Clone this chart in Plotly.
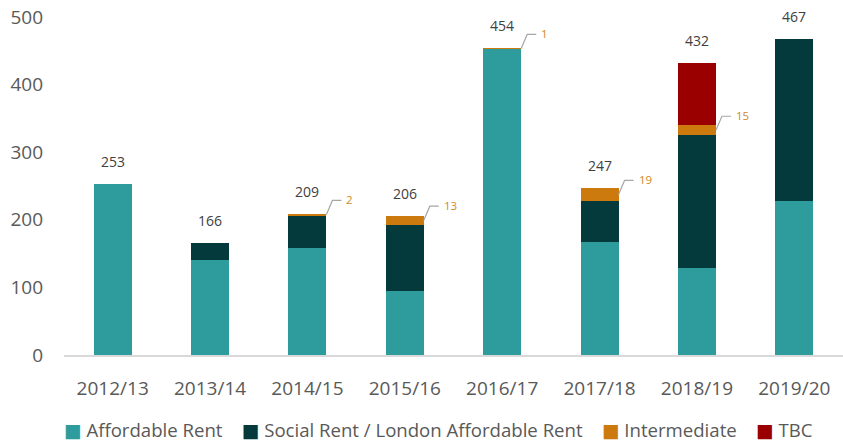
import plotly.graph_objects as go

years = ["2012/13", "2013/14", "2014/15", "2015/16", "2016/17", "2017/18", "2018/19", "2019/20"]
affordable = [253, 140, 159, 95, 453, 167, 128, 228]
social = [0, 26, 48, 98, 0, 61, 197, 239]
intermediate = [0, 0, 2, 13, 1, 19, 15, 0]
tbc = [0, 0, 0, 0, 0, 0, 92, 0]
totals = [253, 166, 209, 206, 454, 247, 432, 467]
y_ticks = [0, 100, 200, 300, 400, 500]

series_names = ["Affordable Rent", "Social Rent / London Affordable Rent", "Intermediate", "TBC"]
series_values = [affordable, social, intermediate, tbc]
series_colors = ["#2e9c9c", "#043a3b", "#cc7a0e", "#9b0000"]

BAR_W = 0.39
FONT = "Open Sans"

fig = go.Figure()
for name, vals, col in zip(series_names, series_values, series_colors):
    fig.add_trace(go.Bar(
        x=list(range(len(years))), y=vals, name=name, width=BAR_W,
        marker=dict(color=col, line=dict(width=0)),
        hoverinfo="y+name", showlegend=False,
    ))

annotations = []
shapes = []
for i, t in enumerate(totals):
    annotations.append(dict(
        x=i, y=t, xref="x", yref="y", text=str(t), showarrow=False,
        yanchor="bottom", yshift=11,
        font=dict(family=FONT, size=14, color="#404040"),
    ))
    iv = intermediate[i]
    if iv > 0:
        base = affordable[i] + social[i]
        ymid = base + iv / 2.0
        xr = i + BAR_W / 2
        shapes.append(dict(
            type="path", xref="x", yref="y",
            xsizemode="pixel", ysizemode="pixel",
            xanchor=xr, yanchor=ymid,
            path="M 0 0 L 6 14 L 15 14",
            line=dict(color="#a6a6a6", width=1.2),
        ))
        annotations.append(dict(
            x=xr, y=ymid, xref="x", yref="y", text=str(iv), showarrow=False,
            xanchor="left", yanchor="middle", xshift=18, yshift=15,
            font=dict(family=FONT, size=11.5, color="#d08a1a"),
        ))

# legend drawn as a single centred line of text
gap = "&nbsp;" * 4
legend_parts = []
for name, col in zip(series_names, series_colors):
    legend_parts.append(
        f"<span style='color:{col};font-family:DejaVu Sans'>■</span> {name}"
    )
annotations.append(dict(
    x=0.481, y=-0.219, xref="paper", yref="paper",
    text=gap.join(legend_parts), showarrow=False,
    xanchor="center", yanchor="middle", borderpad=0,
    font=dict(family=FONT, size=18.6, color="#595959"),
))

fig.update_layout(
    barmode="stack",
    width=843, height=441,
    margin=dict(l=64, r=0, t=17, b=86),
    paper_bgcolor="white", plot_bgcolor="white",
    font=dict(family=FONT, color="#595959"),
    showlegend=False,
    annotations=annotations,
    shapes=shapes,
)
fig.update_xaxes(
    tickmode="array", tickvals=list(range(len(years))), ticktext=years,
    range=[-0.5, len(years) - 0.5],
    showline=True, linecolor="#d9d9d9", linewidth=1.5,
    showgrid=False, ticks="", automargin=False,
    tickfont=dict(family=FONT, size=19, color="#595959"),
    ticklabelstandoff=15,
)
fig.update_yaxes(
    range=[0, 500], tickmode="array", tickvals=y_ticks,
    showgrid=False, zeroline=False, showline=False, ticks="", automargin=False,
    tickfont=dict(family=FONT, size=19, color="#595959"),
    ticklabelstandoff=20,
)

fig.write_html(
    "out.html",
    config={"displayModeBar": False},
    post_script="document.body.style.margin='0';document.body.style.padding='0';",
)
